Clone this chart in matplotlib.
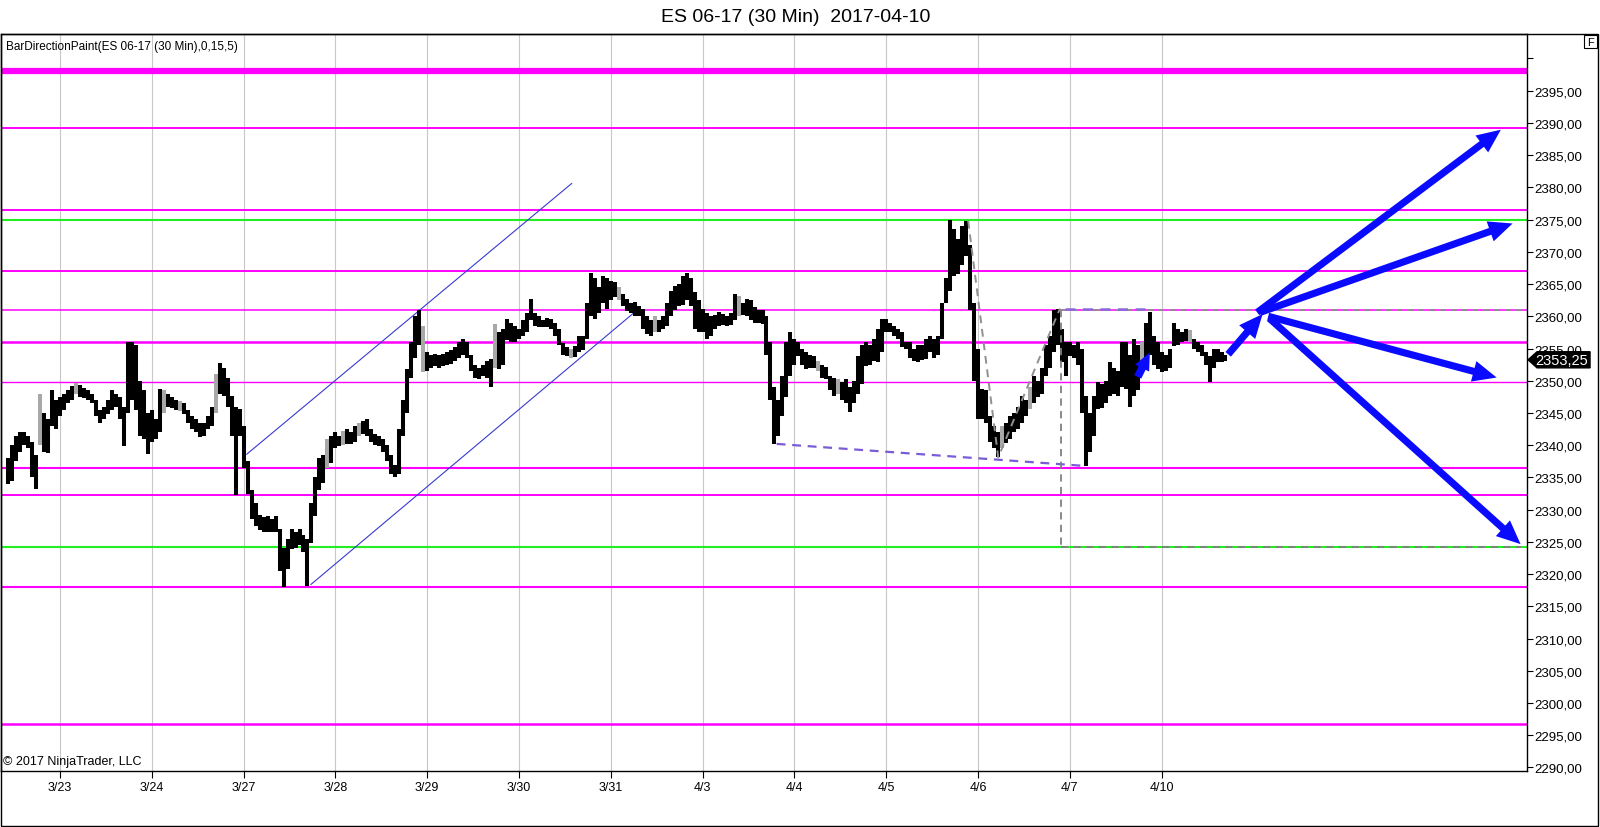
import numpy as np
import matplotlib
matplotlib.use("Agg")
import matplotlib.pyplot as plt
from matplotlib.patches import Polygon, Rectangle

plt.rcParams["font.family"] = ["Liberation Sans", "DejaVu Sans"]

# ---------------------------------------------------------------------------
# data (hourly-ish bars, day units on x)
# ---------------------------------------------------------------------------
TITLE = "ES 06-17 (30 Min)  2017-04-10"
INDICATOR = "BarDirectionPaint(ES 06-17 (30 Min),0,15,5)"
COPYRIGHT = "\u00a9 2017 NinjaTrader, LLC"

DAY_LABELS = ["3/23", "3/24", "3/27", "3/28", "3/29", "3/30", "3/31",
              "4/3", "4/4", "4/5", "4/6", "4/7", "4/10"]
BARS_PER_DAY = 23
FIRST_BAR = -13          # bars shown before the 3/23 session line

HIGH = [
    # 3/22 tail
    2338, 2340, 2341.5, 2342, 2342, 2341.5, 2340.5, 2338.5, 2348, 2345, 2344, 2348.5, 2347,
    # 3/23
    2347.5, 2348, 2348.5, 2349.2, 2349.7, 2349.3, 2348.8, 2348.5, 2348, 2347, 2345.5, 2346,
    2347, 2348.5, 2348, 2347.5, 2346, 2356, 2356, 2355.5, 2350, 2348.5, 2345,
    # 3/24
    2345.5, 2344, 2348.7, 2348.5, 2348, 2347.5, 2347, 2346.8, 2346.5, 2345.5, 2344.5, 2344,
    2343.5, 2343.5, 2344.5, 2346, 2351, 2352.8, 2352, 2350.5, 2347.7, 2346, 2345.6,
    # 3/27
    2343, 2337.6, 2333, 2331, 2329.2, 2328.8, 2329, 2328.5, 2329, 2327, 2324, 2325.5,
    2327, 2326.5, 2327, 2326, 2325.5, 2331, 2335, 2338, 2338.5, 2341, 2341.5,
    # 3/28
    2342, 2341.5, 2342.2, 2342.5, 2342, 2343, 2343.5, 2343.8, 2344, 2342.5, 2341.8, 2341.5,
    2341, 2340, 2338.5, 2337, 2342.5, 2347, 2351.8, 2356, 2360, 2361, 2358.5,
    # 3/29
    2354.5, 2354, 2354.2, 2354, 2354.2, 2354.5, 2354.8, 2355.3, 2356, 2356.5, 2356, 2354,
    2352.5, 2352, 2352.5, 2353, 2353.4, 2358.8, 2357.5, 2358, 2359.6, 2359, 2358.5,
    # 3/30
    2358, 2359.5, 2360.5, 2362.7, 2360.5, 2360, 2359.5, 2359.8, 2359.6, 2359, 2358, 2355.8,
    2355.2, 2355, 2355.4, 2357, 2357, 2362, 2366.7, 2366, 2364.5, 2366.3, 2366,
    # 3/31
    2365.5, 2365.3, 2364.5, 2363.5, 2362.7, 2362, 2362.2, 2361.6, 2361.1, 2360, 2359.5, 2360,
    2359.5, 2360.1, 2362, 2364, 2364.7, 2365, 2366.2, 2366.7, 2366, 2363.7, 2362.5,
    # 4/3
    2361.1, 2360.5, 2360, 2360.2, 2360.6, 2360.3, 2360, 2360.5, 2363.4, 2363.2, 2362, 2362.7,
    2362.5, 2361.5, 2361, 2361, 2360, 2356, 2349, 2347, 2350.8, 2356, 2357.5,
    # 4/4
    2356.5, 2356, 2355, 2354.5, 2354, 2353.8, 2353, 2352.5, 2352.2, 2350.8, 2350.5, 2350.3,
    2349.8, 2350.3, 2349, 2350, 2353.9, 2355.5, 2356, 2355.5, 2356.5, 2358, 2359.6,
    # 4/5
    2359.6, 2359, 2358.5, 2358, 2357.5, 2356, 2356, 2355, 2355.5, 2355.5, 2356.5, 2357,
    2356.5, 2357, 2362, 2366, 2375, 2373.5, 2372, 2374, 2374.8, 2371, 2362,
    # 4/6
    2354.9, 2348.7, 2348.5, 2344.5, 2343, 2342, 2343, 2343.5, 2344.6, 2345, 2346, 2347.7,
    2347, 2349, 2350.8, 2350, 2352, 2355.5, 2357, 2361, 2361.2, 2358, 2356,
    # 4/7
    2356, 2355.5, 2356, 2355, 2347.7, 2345, 2347.7, 2349.8, 2349.5, 2350, 2352.9, 2352,
    2351.5, 2356, 2356, 2354, 2356.5, 2355.5, 2356, 2359, 2360.7, 2357, 2356,
    # 4/10
    2354.4, 2354, 2355, 2359, 2358, 2357.5, 2358, 2357.8, 2356.5, 2356, 2355.5, 2354.5,
    2353.9, 2354.9, 2355, 2354.5, 2354,
]

LOW = [
    # 3/22 tail
    2334, 2334.5, 2337.5, 2339, 2340, 2339.5, 2335, 2333.2, 2340, 2339, 2338.8, 2343, 2342.5,
    # 3/23
    2344.5, 2345.5, 2346.5, 2347, 2348, 2347.5, 2347.3, 2347, 2346.5, 2344.5, 2343.5, 2344,
    2344.8, 2345.5, 2346, 2344, 2339.8, 2345, 2347, 2345.5, 2341.5, 2341, 2338.6,
    # 3/24
    2340.5, 2341, 2342, 2345, 2346, 2345.8, 2345.5, 2345.3, 2344.8, 2343.5, 2342.5, 2342,
    2341.2, 2341.5, 2342.5, 2343, 2345, 2348, 2347.7, 2346, 2341.5, 2332.2, 2341.5,
    # 3/27
    2336.5, 2332.5, 2328.5, 2327.5, 2326.8, 2326.5, 2326.6, 2326.5, 2326.5, 2320.5, 2318, 2320.8,
    2323.9, 2324, 2324.5, 2323.5, 2318.2, 2324.9, 2329, 2333, 2334.2, 2336.5, 2337.3,
    # 3/28
    2339.5, 2339.8, 2340, 2340.2, 2340.2, 2340.5, 2341.5, 2341.8, 2341.5, 2340.5, 2340, 2339.9,
    2339, 2337.5, 2335.5, 2335, 2335.5, 2341.5, 2345, 2350.5, 2353.5, 2355.5, 2351.3,
    # 3/29
    2351.5, 2352, 2352.3, 2352, 2352.3, 2352.5, 2352.6, 2353, 2353.6, 2354, 2353.5, 2351.5,
    2350.5, 2350.3, 2350.8, 2350.5, 2349, 2352, 2351.8, 2352.5, 2356.3, 2356, 2356,
    # 3/30
    2356.5, 2357, 2357.5, 2359.5, 2358.5, 2358.3, 2358.3, 2358.3, 2358, 2357, 2355.5, 2354,
    2353.8, 2353.6, 2353.7, 2354.4, 2354.8, 2356.5, 2360, 2359.6, 2360.5, 2362, 2361.1,
    # 3/31
    2362.5, 2363, 2362.5, 2361.6, 2360.8, 2360.5, 2360.1, 2360, 2358, 2357.2, 2357, 2357.5,
    2357.6, 2358, 2358.5, 2360, 2361, 2361.6, 2361.8, 2362.5, 2361.6, 2358, 2357.5,
    # 4/3
    2357.5, 2356.5, 2357, 2358, 2358.5, 2358.6, 2358.5, 2358.6, 2359.5, 2360.1, 2360.2, 2360,
    2359.5, 2359, 2359, 2358.8, 2354, 2347, 2340.2, 2341.5, 2344.5, 2347.5, 2350.8,
    # 4/4
    2352.5, 2353.9, 2352.5, 2351.8, 2352, 2352, 2351.5, 2350.5, 2350.3, 2348.5, 2347.7, 2348,
    2347, 2346.5, 2345.1, 2346.5, 2348, 2349.5, 2352.3, 2352.5, 2353, 2352.9, 2354.5,
    # 4/5
    2357.5, 2357.5, 2357, 2356.5, 2355.2, 2354.9, 2353.5, 2353, 2352.9, 2353.2, 2353.4, 2354.5,
    2353.5, 2354, 2356.5, 2362, 2364, 2366.3, 2366.5, 2368, 2369.4, 2361, 2350,
    # 4/6
    2344.1, 2344, 2343.5, 2340.5, 2339.5, 2338.1, 2339.5, 2340.4, 2341, 2342, 2342.5, 2343.5,
    2344.5, 2345.6, 2346.5, 2347.5, 2348, 2350.8, 2352, 2354.5, 2355.5, 2352.9, 2350.8,
    # 4/7
    2353.9, 2353.5, 2352.5, 2345, 2336.8, 2338.9, 2341.5, 2345.6, 2345.8, 2346.5, 2347.7, 2348,
    2347.7, 2349, 2348.7, 2346, 2347.7, 2348.5, 2352, 2353.5, 2354, 2352.5, 2351.8,
    # 4/10
    2351.3, 2351.5, 2352, 2355.4, 2355.5, 2356, 2356.2, 2356, 2355, 2354.5, 2353.9, 2352.5,
    2349.8, 2352, 2352.9, 2352.9, 2353,
]

# bars painted gray by the indicator (index into HIGH/LOW)
GRAY_BARS = [8, 17, 39, 43, 52, 80, 84, 88, 104, 122, 141, 153, 162, 183,
             203, 208, 249, 256, 284, 296]

LAST_PRICE = 2353.25

# horizontal levels
MAGENTA_LEVELS = [2398.0, 2389.25, 2376.5, 2367.0, 2361.0, 2356.0, 2349.75,
                  2336.5, 2332.25, 2318.0, 2296.75]
MAGENTA_WIDTHS = [4.5, 1.4, 1.4, 1.4, 1.1, 1.8, 1.0, 1.5, 1.4, 1.5, 1.8]
GREEN_LEVELS = [2375.0, 2324.25]

# drawings: (day position, price)
CHANNEL_UPPER = [(2.034, 2338.6), (5.573, 2380.6)]
CHANNEL_LOWER = [(2.734, 2318.4), (6.281, 2360.9)]
PURPLE_DASH = [(7.806, 2340.2), (11.146, 2336.8)]
PURPLE_TOP = [(10.947, 2361.1), (11.866, 2361.1)]
GRAY_PATH = [(9.893, 2374.8), (10.22, 2338.1), (10.892, 2361.2)]
BOX_LEFT = 10.903
BOX_TOP = 2361.0
BOX_BOTTOM = 2324.25

SMALL_ARROW = ((11.74, 2350.6), (11.872, 2354.4))
BIG_ARROWS = [((12.725, 2354.1), (13.10, 2360.35)),
              ((13.041, 2360.6), (15.695, 2388.95)),
              ((13.071, 2360.6), (15.823, 2374.4)),
              ((13.161, 2360.0), (15.649, 2350.5)),
              ((13.172, 2359.7), (15.91, 2324.65))]

Y_TICKS = list(range(2290, 2401, 5))

# ---------------------------------------------------------------------------
# figure
# ---------------------------------------------------------------------------
W, H = 1600, 828
fig = plt.figure(figsize=(W / 100, H / 100), dpi=100)
ax = fig.add_axes([1 / W, 1 - 772.3 / H, 1526 / W, (772.3 - 35) / H])
ax.set_xlim(-0.643, 15.98)
ax.set_ylim(2289.4, 2403.8)

# vertical session grid
ax.set_xticks(range(len(DAY_LABELS)))
ax.set_xticklabels(DAY_LABELS, fontsize=9)
ax.grid(axis="x", color="#c8c8c8", linewidth=0.8)
ax.set_axisbelow(True)

# levels
for lvl, lw in zip(MAGENTA_LEVELS, MAGENTA_WIDTHS):
    ax.axhline(lvl, color="#ff00ff", linewidth=lw, zorder=2)
for lvl in GREEN_LEVELS:
    ax.axhline(lvl, color="#22ee22", linewidth=1.5, zorder=2)

# bars
x = (FIRST_BAR + np.arange(len(HIGH))) / BARS_PER_DAY
colors = ["#a8a8a8" if i in GRAY_BARS else "black" for i in range(len(HIGH))]
ax.vlines(x, LOW, HIGH, colors=colors, linewidth=2.9, zorder=4)

# channel
for line in (CHANNEL_UPPER, CHANNEL_LOWER):
    xs, ys = zip(*line)
    ax.plot(xs, ys, color="#3a3ad0", linewidth=0.8, zorder=3)

# dashed drawings
xs, ys = zip(*PURPLE_DASH)
ax.plot(xs, ys, color="#7a5cd6", linewidth=1.6, linestyle=(0, (4, 3)), zorder=5)
xs, ys = zip(*GRAY_PATH)
ax.plot(xs, ys, color="#909090", linewidth=1.4, linestyle=(0, (4, 3)), zorder=5)
ax.plot([BOX_LEFT, BOX_LEFT], [BOX_TOP, BOX_BOTTOM], color="#808080",
        linewidth=1.3, linestyle=(0, (4, 3)), zorder=5)
ax.plot([BOX_LEFT, 15.98], [BOX_TOP, BOX_TOP], color="#909090",
        linewidth=1.3, linestyle=(0, (3, 3)), zorder=5)
ax.plot([BOX_LEFT, 15.91], [BOX_BOTTOM, BOX_BOTTOM], color="#808080",
        linewidth=1.3, linestyle=(0, (4, 3)), zorder=5)
xs, ys = zip(*PURPLE_TOP)
ax.plot(xs, ys, color="#8a6ad8", linewidth=1.8, linestyle=(0, (4, 3)), zorder=5)

# arrows
ax.annotate("", xy=SMALL_ARROW[1], xytext=SMALL_ARROW[0], zorder=6,
            arrowprops=dict(arrowstyle="simple,head_length=0.9,head_width=0.8,tail_width=0.4",
                            fc="#0a0aff", ec="none", shrinkA=0, shrinkB=0,
                            mutation_scale=14))
for tail, head in BIG_ARROWS:
    ax.annotate("", xy=head, xytext=tail, zorder=6,
                arrowprops=dict(arrowstyle="simple,head_length=0.9,head_width=0.8,tail_width=0.27",
                                fc="#0a0aff", ec="none", shrinkA=0, shrinkB=0,
                                mutation_scale=19))

# axes styling
ax.yaxis.tick_right()
ax.set_yticks(Y_TICKS)
ax.set_yticklabels(["" if v == 2400 else f"{v:.2f}".replace(".", ",")
                    for v in Y_TICKS], fontsize=9.5)
ax.tick_params(axis="y", direction="out", length=4, pad=1, colors="black")
ax.tick_params(axis="x", direction="out", length=5, pad=2)
for sp in ax.spines.values():
    sp.set_color("black")
    sp.set_linewidth(1.0)

# last price marker
yt = ax.get_yaxis_transform()
y0 = LAST_PRICE
marker = Polygon([(1.0007, y0), (1.0066, y0 + 1.25), (1.0413, y0 + 1.25),
                  (1.0413, y0 - 1.25), (1.0066, y0 - 1.25)],
                 closed=True, transform=yt, facecolor="black",
                 edgecolor="black", clip_on=False, zorder=10)
ax.add_patch(marker)
ax.text(1.0225, y0, f"{LAST_PRICE:.2f}".replace(".", ","), transform=yt,
        color="white", fontsize=10.5, ha="center", va="center", zorder=11,
        clip_on=False)

# texts
ax.text(0.003, 0.984, INDICATOR, transform=ax.transAxes, fontsize=8.5,
        ha="left", va="center", zorder=7)
ax.text(0.0015, 0.014, COPYRIGHT, transform=ax.transAxes, fontsize=9,
        ha="left", va="center", zorder=7)
fig.text(796 / W, 1 - 17 / H, TITLE, fontsize=14, ha="center", va="center")

# outer frame + "F" box
fig.add_artist(Rectangle((0.5 / W, 1 / H), 1597 / W, (827 - 35) / H,
                         transform=fig.transFigure, fill=False,
                         edgecolor="black", linewidth=1.0))
fig.add_artist(Rectangle((1584 / W, 1 - 49 / H), 13 / W, 13 / H,
                         transform=fig.transFigure, fill=False,
                         edgecolor="black", linewidth=0.8))
fig.text(1590.5 / W, 1 - 42.5 / H, "F", fontsize=8, ha="center", va="center")

fig.savefig("out.png", dpi=100)
